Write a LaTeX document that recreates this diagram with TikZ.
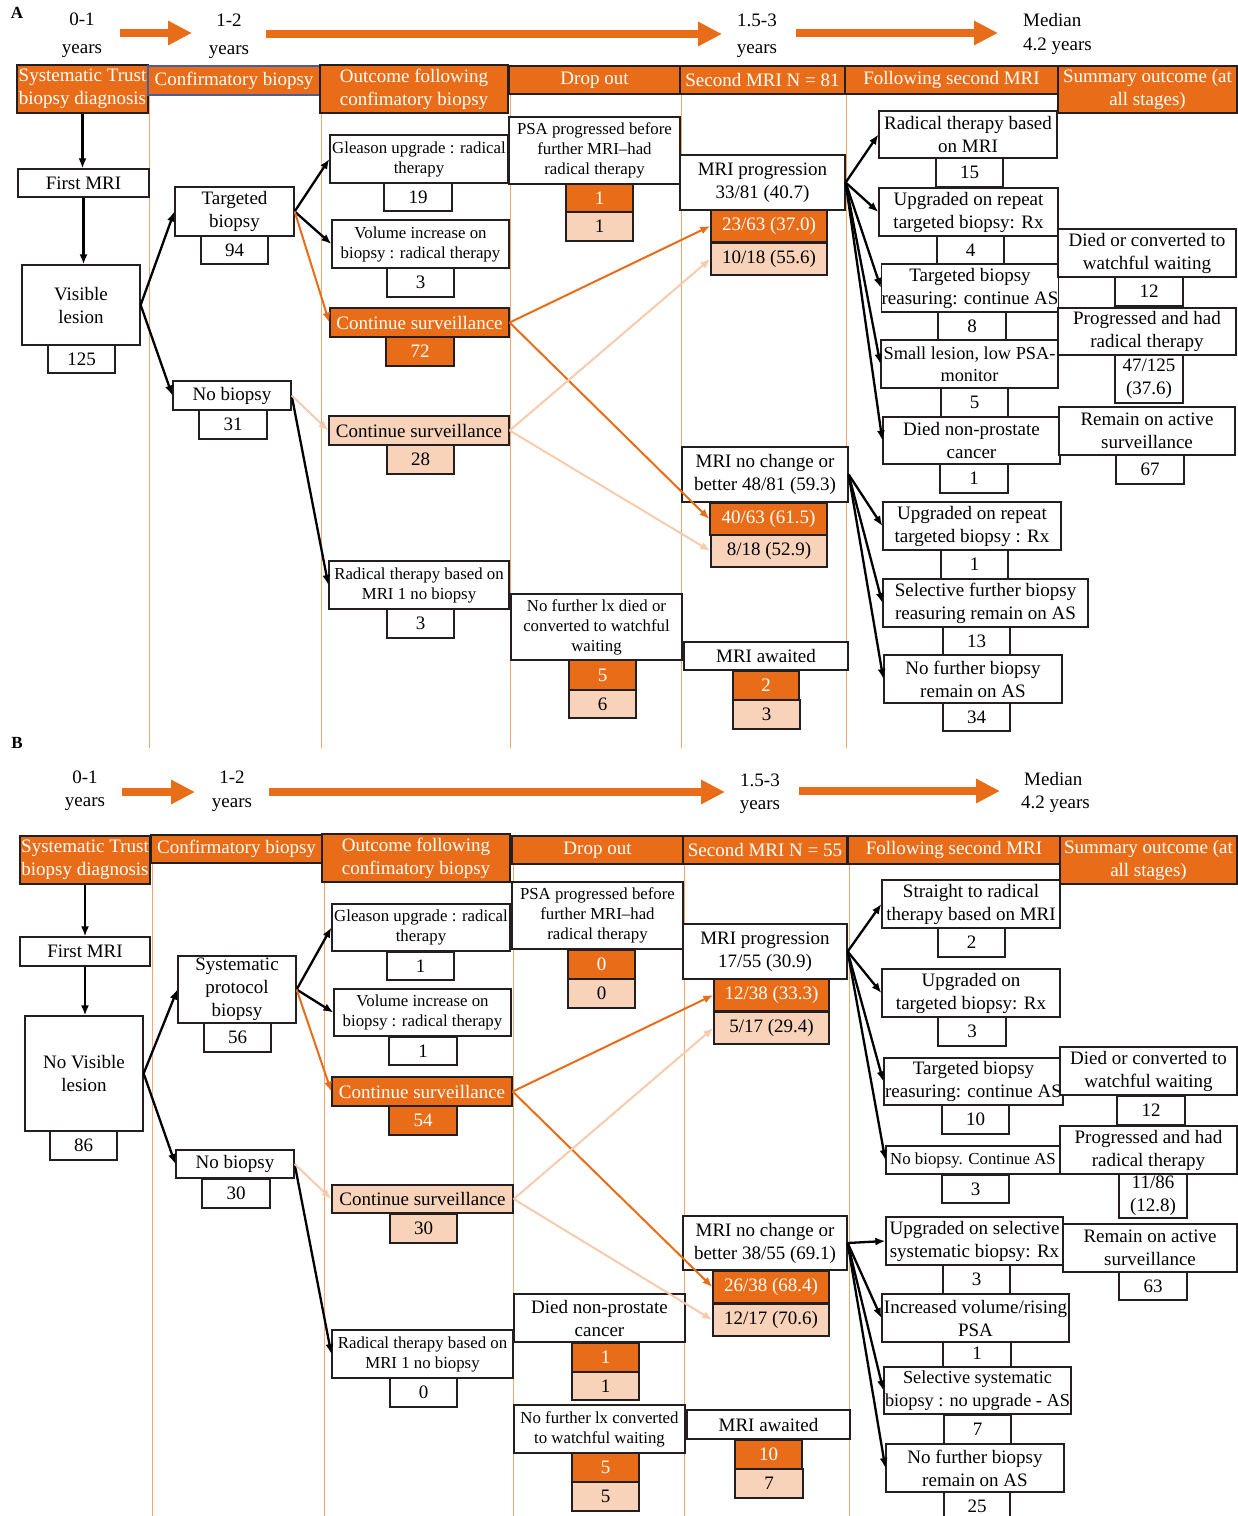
\documentclass[tikz,border=0pt]{standalone}
\usepackage{fontspec}
\setmainfont{Liberation Serif}
\usetikzlibrary{arrows.meta}
\definecolor{orng}{RGB}{233,109,24}
\definecolor{peach}{RGB}{248,211,185}
\definecolor{peachln}{RGB}{248,203,173}
\definecolor{vln}{RGB}{244,166,112}
\definecolor{bdr}{RGB}{35,31,32}
\definecolor{hblue}{RGB}{68,94,160}
\newcommand\mainf{\fontsize{19}{23}\selectfont}
\newcommand\midf{\fontsize{18.3}{22.5}\selectfont}
\newcommand\smallf{\fontsize{16.8}{20}\selectfont}
\newcommand{\mybox}[7]{%
 \pgfmathsetmacro{\mybw}{#5-#3}%
 \pgfmathsetmacro{\mybh}{#6-#4}%
 \pgfmathsetmacro{\mybx}{(#3+#5)/2}%
 \pgfmathsetmacro{\myby}{(#4+#6)/2}%
 \node[#2, minimum width=\mybw pt, minimum height=\mybh pt] (#1) at (\mybx,\myby) {#7};}
\begin{document}
\begin{tikzpicture}[x=1pt,y=-1pt,
 box/.style={draw=bdr, line width=1.3pt, fill=white, inner sep=0pt, align=center, font=\mainf, text=black},
 sbox/.style={box, font=\smallf},
 mbox/.style={box, font=\midf},
 hdr/.style={box, fill=orng, text=white},
 obox/.style={box, fill=orng, text=white},
 pbox/.style={box, fill=peach},
 arr/.style={line width=2.3pt, draw=black, -{Latex[length=10pt,width=8pt]}},
 oarr/.style={line width=2pt, draw=orng, -{Latex[length=10pt,width=8pt]}},
 parr/.style={line width=2pt, draw=peachln, -{Latex[length=10pt,width=8pt]}},
 tarr/.style={line width=8pt, draw=orng, fill=orng, -{Triangle[length=24pt,width=23pt]}},
 vcol/.style={draw=vln, line width=1pt},
 lbl/.style={font=\mainf, inner sep=0pt, anchor=base, text=black},
 plbl/.style={font=\bfseries\fontsize{17}{20}\selectfont, inner sep=0pt},
]
\useasboundingbox[fill=white] (0,0) rectangle (1238,1516);

% ================= PANEL A =================
\node[plbl] (pA) at (17,13) {A};
\node[lbl] (tA1a) at (82,25) {0-1};
\node[lbl] (tA1b) at (82,53) {years};
\node[lbl] (tA2a) at (229,26) {1-2};
\node[lbl] (tA2b) at (229,54) {years};
\node[lbl] (tA3a) at (757,26) {1.5-3};
\node[lbl] (tA3b) at (757,53) {years};
\node[lbl, anchor=base west] (tA4a) at (1023,26) {Median};
\node[lbl, anchor=base west] (tA4b) at (1023,50) {4.2 years};
\coordinate (kA1) at (120,33); \coordinate (kA2) at (192,33);
\coordinate (kA3) at (266,34); \coordinate (kA4) at (722,34);
\coordinate (kA5) at (796,33); \coordinate (kA6) at (998,33);
\draw[tarr] (kA1) -- (kA2);
\draw[tarr] (kA3) -- (kA4);
\draw[tarr] (kA5) -- (kA6);

\foreach \xx in {149,321,510,681,846} \draw[vcol] (\xx,94) -- (\xx,748);

\mybox{hA1}{hdr}{17}{65}{148}{113}{Systematic Trust\\biopsy diagnosis}
\mybox{hA2}{hdr, draw=hblue}{148}{66}{320}{95}{Confirmatory biopsy}
\mybox{hA3}{hdr}{320}{65}{508}{113}{Outcome following\\confimatory biopsy}
\mybox{hA4}{hdr}{509}{66}{680}{94}{Drop out}
\mybox{hA5}{hdr}{680}{66}{845}{94}{Second MRI N = 81}
\mybox{hA6}{hdr}{845}{66}{1058}{94}{Following second MRI}
\mybox{hA7}{hdr}{1058}{66}{1237}{113}{Summary outcome (at\\all stages)}

\mybox{a1}{box}{18}{169}{149}{197}{First MRI}
\mybox{a2}{box}{22}{265}{140}{345}{Visible\\lesion}
\mybox{a3}{box}{48}{345}{115}{373}{125}
\mybox{a4}{box}{175}{187}{294}{236}{Targeted\\biopsy}
\mybox{a5}{box}{201}{236}{268}{264}{94}
\mybox{a6}{box}{173}{381}{291}{410}{No biopsy}
\mybox{a7}{box}{199}{410}{267}{439}{31}
\mybox{a8}{sbox}{330}{135}{508}{183}{Gleason upgrade : radical\\therapy}
\mybox{a9}{box}{384}{183}{452}{211}{19}
\mybox{a10}{sbox}{332}{220}{509}{268}{Volume increase on\\biopsy : radical therapy}
\mybox{a11}{box}{387}{268}{454}{297}{3}
\mybox{a12}{obox}{330}{308}{509}{337}{Continue surveillance}
\mybox{a13}{obox}{386}{337}{454}{366}{72}
\mybox{a14}{pbox}{329}{416}{509}{445}{Continue surveillance}
\mybox{a15}{pbox}{387}{445}{454}{474}{28}
\mybox{a16}{sbox}{329}{561}{509}{609}{Radical therapy based on\\MRI 1 no biopsy}
\mybox{a17}{box}{387}{609}{454}{638}{3}
\mybox{a18}{sbox}{509}{117}{680}{184}{PSA progressed before\\further MRI–had\\radical therapy}
\mybox{a19}{obox}{566}{184}{633}{212}{1}
\mybox{a20}{pbox}{566}{212}{633}{241}{1}
\mybox{a21}{sbox}{511}{594}{682}{660}{No further lx died or\\converted to watchful\\waiting}
\mybox{a22}{obox}{569}{660}{636}{690}{5}
\mybox{a23}{pbox}{569}{690}{636}{718}{6}
\mybox{a24}{box}{680}{155}{845}{210}{MRI progression\\33/81 (40.7)}
\mybox{a25}{obox}{711}{210}{827}{242}{23/63 (37.0)}
\mybox{a26}{pbox}{711}{243}{827}{275}{10/18 (55.6)}
\mybox{a27}{box}{682}{447}{848}{502}{MRI no change or\\better 48/81 (59.3)}
\mybox{a28}{obox}{710}{503}{827}{535}{40/63 (61.5)}
\mybox{a29}{pbox}{711}{535}{827}{567}{8/18 (52.9)}
\mybox{a30}{box}{684}{642}{848}{670}{MRI awaited}
\mybox{a31}{obox}{733}{671}{799}{700}{2}
\mybox{a32}{pbox}{733}{700}{800}{729}{3}
\mybox{a33}{box}{879}{111}{1057}{158}{Radical therapy based\\on MRI}
\mybox{a34}{box}{936}{158}{1003}{187}{15}
\mybox{a35}{box}{879}{188}{1058}{236}{Upgraded on repeat\\targeted biopsy: Rx}
\mybox{a36}{box}{937}{236}{1004}{264}{4}
\mybox{a37}{box}{882}{264}{1058}{312}{Targeted biopsy\\reasuring: continue AS}
\mybox{a38}{box}{938}{312}{1006}{340}{8}
\mybox{a39}{mbox}{881}{340}{1058}{388}{Small lesion, low PSA-\\monitor}
\mybox{a40}{box}{941}{388}{1008}{417}{5}
\mybox{a41}{box}{883}{417}{1060}{464}{Died non-prostate\\cancer}
\mybox{a42}{box}{940}{464}{1008}{493}{1}
\mybox{a43}{box}{883}{502}{1061}{550}{Upgraded on repeat\\targeted biopsy : Rx}
\mybox{a44}{box}{941}{550}{1008}{579}{1}
\mybox{a45}{box}{883}{579}{1088}{627}{Selective further biopsy\\reasuring remain on AS}
\mybox{a46}{box}{943}{627}{1010}{655}{13}
\mybox{a47}{box}{884}{655}{1062}{703}{No further biopsy\\remain on AS}
\mybox{a48}{box}{943}{703}{1010}{731}{34}
\mybox{a49}{box}{1058}{229}{1236}{277}{Died or converted to\\watchful waiting}
\mybox{a50}{box}{1115}{277}{1183}{306}{12}
\mybox{a51}{box}{1058}{308}{1236}{355}{Progressed and had\\radical therapy}
\mybox{a52}{box}{1115}{355}{1183}{403}{47/125\\(37.6)}
\mybox{a53}{box}{1059}{407}{1235}{455}{Remain on active\\surveillance}
\mybox{a54}{box}{1116}{455}{1184}{484}{67}

\draw[arr] (hA1.south) -- (hA1.south |- a1.north);
\draw[arr] (a1.south) -- (a1.south |- a2.north);
\draw[arr] (a2.east) -- (a4.west);
\draw[arr] (a2.east) -- (a6.west);
\draw[arr] (a4.east) -- (a8.west);
\draw[arr] (a4.east) -- (a10.west);
\draw[oarr] (a4.east) -- (a12.west);
\draw[arr] (a6.east) -- (a16.west);
\draw[parr] (a6.east) -- (a14.west);
\draw[oarr] (a12.east) -- (a25.west);
\draw[oarr] (a12.east) -- (a28.west);
\draw[parr] (a14.east) -- (a26.west);
\draw[parr] (a14.east) -- (a29.west);
\foreach \t in {a33,a35,a37,a39,a41} \draw[arr] (a24.east) -- (\t.west);
\foreach \t in {a43,a45,a47} \draw[arr] (a27.east) -- (\t.west);

% ================= PANEL B =================
\node[plbl] (pB) at (17,743) {B};
\node[lbl] (tB1a) at (85,783) {0-1};
\node[lbl] (tB1b) at (85,806) {years};
\node[lbl] (tB2a) at (232,783) {1-2};
\node[lbl] (tB2b) at (232,807) {years};
\node[lbl] (tB3a) at (760,786) {1.5-3};
\node[lbl] (tB3b) at (760,809) {years};
\node[lbl, anchor=base west] (tB4a) at (1024,785) {Median};
\node[lbl, anchor=base west] (tB4b) at (1021,808) {4.2 years};
\coordinate (kB1) at (122,792); \coordinate (kB2) at (195,792);
\coordinate (kB3) at (269,792); \coordinate (kB4) at (725,792);
\coordinate (kB5) at (799,791); \coordinate (kB6) at (1000,791);
\draw[tarr] (kB1) -- (kB2);
\draw[tarr] (kB3) -- (kB4);
\draw[tarr] (kB5) -- (kB6);

\foreach \xx in {152,324,513,684,849} \draw[vcol] (\xx,863) -- (\xx,1516);

\mybox{hB1}{hdr}{20}{836}{150}{884}{Systematic Trust\\biopsy diagnosis}
\mybox{hB2}{hdr}{151}{835}{322}{863}{Confirmatory biopsy}
\mybox{hB3}{hdr}{322}{834}{510}{882}{Outcome following\\confimatory biopsy}
\mybox{hB4}{hdr}{512}{836}{683}{864}{Drop out}
\mybox{hB5}{hdr}{683}{836}{847}{864}{Second MRI N = 55}
\mybox{hB6}{hdr}{848}{836}{1060}{864}{Following second MRI}
\mybox{hB7}{hdr}{1060}{836}{1237}{884}{Summary outcome (at\\all stages)}

\mybox{b1}{box}{20}{937}{150}{966}{First MRI}
\mybox{b2}{box}{25}{1016}{143}{1131}{No Visible\\lesion}
\mybox{b3}{box}{50}{1131}{117}{1160}{86}
\mybox{b4}{box}{178}{956}{296}{1023}{Systematic\\protocol\\biopsy}
\mybox{b5}{box}{204}{1023}{271}{1052}{56}
\mybox{b6}{box}{176}{1150}{294}{1178}{No biopsy}
\mybox{b7}{box}{202}{1179}{270}{1208}{30}
\mybox{b8}{sbox}{332}{904}{510}{951}{Gleason upgrade : radical\\therapy}
\mybox{b9}{box}{387}{952}{454}{980}{1}
\mybox{b10}{sbox}{334}{989}{511}{1036}{Volume increase on\\biopsy : radical therapy}
\mybox{b11}{box}{389}{1037}{457}{1065}{1}
\mybox{b12}{obox}{332}{1077}{512}{1106}{Continue surveillance}
\mybox{b13}{obox}{389}{1106}{457}{1135}{54}
\mybox{b14}{pbox}{332}{1185}{513}{1213}{Continue surveillance}
\mybox{b15}{pbox}{390}{1214}{457}{1243}{30}
\mybox{b16}{sbox}{332}{1330}{513}{1378}{Radical therapy based on\\MRI 1 no biopsy}
\mybox{b17}{box}{390}{1378}{457}{1407}{0}
\mybox{b18}{sbox}{512}{882}{683}{949}{PSA progressed before\\further MRI–had\\radical therapy}
\mybox{b19}{obox}{568}{950}{635}{979}{0}
\mybox{b20}{pbox}{568}{979}{635}{1008}{0}
\mybox{b21}{box}{514}{1294}{685}{1342}{Died non-prostate\\cancer}
\mybox{b22}{obox}{572}{1343}{639}{1372}{1}
\mybox{b23}{pbox}{572}{1372}{639}{1400}{1}
\mybox{b24}{sbox}{514}{1405}{685}{1453}{No further lx converted\\to watchful waiting}
\mybox{b25}{obox}{572}{1453}{639}{1482}{5}
\mybox{b26}{pbox}{572}{1482}{639}{1511}{5}
\mybox{b27}{box}{683}{924}{847}{979}{MRI progression\\17/55 (30.9)}
\mybox{b28}{obox}{714}{979}{829}{1011}{12/38 (33.3)}
\mybox{b29}{pbox}{714}{1012}{829}{1044}{5/17 (29.4)}
\mybox{b30}{box}{683}{1216}{847}{1270}{MRI no change or\\better 38/55 (69.1)}
\mybox{b31}{obox}{713}{1271}{829}{1303}{26/38 (68.4)}
\mybox{b32}{pbox}{713}{1304}{829}{1336}{12/17 (70.6)}
\mybox{b33}{box}{687}{1410}{850}{1439}{MRI awaited}
\mybox{b34}{obox}{735}{1440}{802}{1469}{10}
\mybox{b35}{pbox}{735}{1469}{803}{1498}{7}
\mybox{b36}{box}{882}{880}{1060}{928}{Straight to radical\\therapy based on MRI}
\mybox{b37}{box}{938}{928}{1005}{957}{2}
\mybox{b38}{box}{882}{969}{1060}{1017}{Upgraded on\\targeted biopsy: Rx}
\mybox{b39}{box}{938}{1017}{1006}{1046}{3}
\mybox{b40}{box}{884}{1058}{1063}{1105}{Targeted biopsy\\reasuring: continue AS}
\mybox{b41}{box}{942}{1105}{1009}{1134}{10}
\mybox{b42}{sbox}{886}{1146}{1060}{1174}{No biopsy. Continue AS}
\mybox{b43}{box}{942}{1175}{1009}{1203}{3}
\mybox{b44}{box}{886}{1217}{1063}{1265}{Upgraded on selective\\systematic biopsy: Rx}
\mybox{b45}{box}{943}{1265}{1010}{1294}{3}
\mybox{b47}{box}{943}{1339}{1011}{1368}{1}
\mybox{b46}{box}{882}{1294}{1069}{1342}{Increased volume/rising\\PSA}
\mybox{b48}{mbox}{884}{1367}{1071}{1414}{Selective systematic\\biopsy : no upgrade - AS}
\mybox{b49}{box}{944}{1415}{1011}{1444}{7}
\mybox{b50}{box}{886}{1444}{1064}{1492}{No further biopsy\\remain on AS}
\mybox{b51}{box}{944}{1492}{1010}{1521}{25}
\mybox{b52}{box}{1060}{1047}{1237}{1095}{Died or converted to\\watchful waiting}
\mybox{b53}{box}{1117}{1096}{1185}{1125}{12}
\mybox{b54}{box}{1060}{1126}{1237}{1174}{Progressed and had\\radical therapy}
\mybox{b55}{box}{1119}{1174}{1187}{1218}{11/86\\(12.8)}
\mybox{b56}{box}{1063}{1224}{1237}{1272}{Remain on active\\surveillance}
\mybox{b57}{box}{1119}{1272}{1187}{1300}{63}

\draw[arr] (hB1.south) -- (hB1.south |- b1.north);
\draw[arr] (b1.south) -- (b1.south |- b2.north);
\draw[arr] (b2.east) -- (b4.west);
\draw[arr] (b2.east) -- (b6.west);
\draw[arr] (b4.east) -- (b8.west);
\draw[arr] (b4.east) -- (b10.west);
\draw[oarr] (b4.east) -- (b12.west);
\draw[arr] (b6.east) -- (b16.west);
\draw[parr] (b6.east) -- (b14.west);
\draw[oarr] (b12.east) -- (b28.west);
\draw[oarr] (b12.east) -- (b31.west);
\draw[parr] (b14.east) -- (b29.west);
\draw[parr] (b14.east) -- (b32.west);
\foreach \t in {b36,b38,b40,b42} \draw[arr] (b27.east) -- (\t.west);
\foreach \t in {b44,b46,b48,b50} \draw[arr] (b30.east) -- (\t.west);
\end{tikzpicture}
\end{document}
